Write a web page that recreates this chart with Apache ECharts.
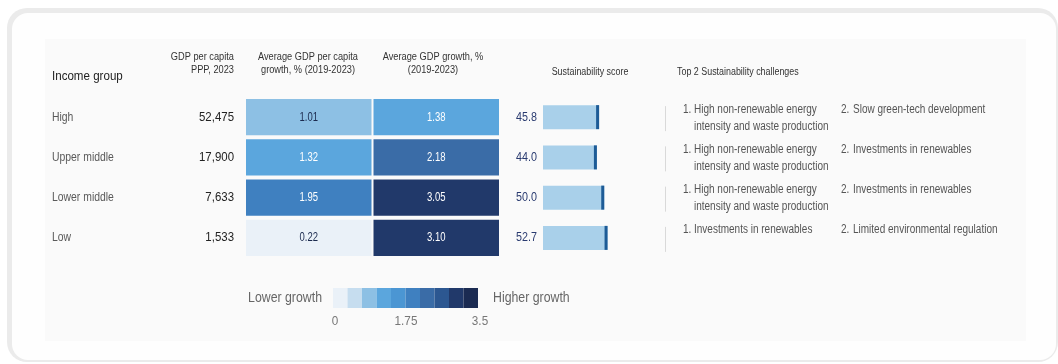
<!DOCTYPE html>
<html>
<head>
<meta charset="utf-8">
<script src="https://cdn.jsdelivr.net/npm/echarts@6/dist/echarts.min.js"></script>
<style>
  html, body { margin: 0; padding: 0; background: #ffffff; }
  #chart { width: 1058px; height: 364px; }
</style>
</head>
<body>
<div id="chart"></div>
<script>
// Income groups and their indicators
const incomeGroups = ['High', 'Upper middle', 'Lower middle', 'Low'];
const gdpPerCapitaPPP = [52475, 17900, 7633, 1533];
const perCapitaGrowth = [1.01, 1.32, 1.95, 0.22];
const gdpGrowth = [1.38, 2.18, 3.05, 3.10];
const sustainabilityScore = [45.8, 44.0, 50.0, 52.7];
const firstChallenge = [
  ['High non-renewable energy', 'intensity and waste production'],
  ['High non-renewable energy', 'intensity and waste production'],
  ['High non-renewable energy', 'intensity and waste production'],
  ['Investments in renewables']
];
const secondChallenge = [
  'Slow green-tech development',
  'Investments in renewables',
  'Investments in renewables',
  'Limited environmental regulation'
];
const growthColumns = ['Average GDP per capita\ngrowth, % (2019-2023)', 'Average GDP growth, %\n(2019-2023)'];
const growthScaleTicks = ['0', '1.75', '3.5'];
const growthScaleMax = 3.5;
const growthPalette = ['#eaf1f8', '#c6ddef', '#8dc0e4', '#5ba6dd', '#4b96d3', '#3f80c0', '#3a6ca7', '#2c5791', '#21396a', '#1b2b52'];

const FONT = "'Liberation Sans', Arial, sans-serif";

// heat cells: [column, row, value]
const growthCells = [];
incomeGroups.forEach((g, i) => {
  growthCells.push([0, i, perCapitaGrowth[i]]);
  growthCells.push([1, i, gdpGrowth[i]]);
});

// ten equal bins over the growth scale
const binSize = growthScaleMax / growthPalette.length;
const growthPieces = growthPalette.map((c, k) => {
  const p = { gte: k * binSize, color: c };
  if (k === growthPalette.length - 1) p.lte = growthScaleMax; else p.lt = (k + 1) * binSize;
  return p;
});

// condensed text element: anchored at (x, y), squeezed horizontally around the anchor
function narrowText(x, y, text, size, fill, align, sx, extra) {
  return {
    type: 'text', x: x, y: y, scaleX: sx, silent: true,
    style: Object.assign({
      x: 0, y: 0, text: text, font: size + 'px ' + FONT, fill: fill,
      align: align || 'left', verticalAlign: 'middle'
    }, extra || {})
  };
}

const chart = echarts.init(document.getElementById('chart'), null, { renderer: 'canvas' });

const gridTop = 97, gridHeight = 161;

chart.setOption({
  backgroundColor: '#ffffff',
  animation: false,
  textStyle: { fontFamily: FONT },
  grid: [
    { left: 245, top: gridTop, width: 255, height: gridHeight },
    { left: 543, top: gridTop, width: 122.5, height: gridHeight },
    { left: 665, top: gridTop, width: 360, height: gridHeight }
  ],
  xAxis: [
    { type: 'category', gridIndex: 0, data: growthColumns, show: false },
    { type: 'value', gridIndex: 1, min: 0, max: 100, show: false },
    { type: 'value', gridIndex: 2, min: 0, max: 1, show: false }
  ],
  yAxis: [
    { type: 'category', gridIndex: 0, inverse: true, data: incomeGroups, show: false },
    { type: 'category', gridIndex: 1, inverse: true, data: incomeGroups, show: false },
    { type: 'category', gridIndex: 2, inverse: true, data: incomeGroups, show: false }
  ],
  visualMap: {
    type: 'piecewise',
    orient: 'horizontal',
    left: 318, top: 273,
    itemWidth: 14.5, itemHeight: 20, itemGap: 0,
    itemSymbol: 'rect',
    showLabel: false,
    selectedMode: false,
    hoverLink: false,
    seriesIndex: 0,
    dimension: 2,
    pieces: growthPieces
  },
  series: [
    {
      // growth heat cells
      type: 'custom',
      name: 'Growth',
      xAxisIndex: 0, yAxisIndex: 0,
      encode: { x: 0, y: 1 },
      data: growthCells,
      silent: true,
      renderItem: function (params, api) {
        const c = api.coord([api.value(0), api.value(1)]);
        const s = api.size([1, 1]);
        const v = api.value(2);
        return {
          type: 'group',
          children: [
            {
              type: 'rect',
              shape: { x: c[0] - s[0] / 2 + 1, y: c[1] - s[1] / 2 + 2, width: s[0] - 2, height: s[1] - 4 },
              style: { fill: api.visual('color') }
            },
            narrowText(c[0], c[1], v.toFixed(2), 12.5, v < 1.2 ? '#1b2a4e' : '#ffffff', 'center', 0.76)
          ]
        };
      }
    },
    {
      // row names and GDP per capita, aligned to the heat rows
      type: 'custom',
      name: 'Rows',
      xAxisIndex: 0, yAxisIndex: 0,
      encode: { x: 0, y: 1 },
      data: incomeGroups.map((g, i) => [0, i]),
      silent: true,
      renderItem: function (params, api) {
        const i = params.dataIndex;
        const y = api.coord([0, api.value(1)])[1];
        const left = params.coordSys.x;
        return {
          type: 'group',
          children: [
            narrowText(left - 193, y, incomeGroups[i], 13, '#5a5a5a', 'left', 0.8),
            narrowText(left - 11, y, gdpPerCapitaPPP[i].toLocaleString('en-US'), 13, '#222', 'right', 0.88)
          ]
        };
      }
    },
    {
      type: 'bar',
      name: 'Sustainability score',
      xAxisIndex: 1, yAxisIndex: 1,
      data: sustainabilityScore,
      barWidth: 24,
      itemStyle: { color: '#a9d0ea' },
      silent: true
    },
    {
      // score end marker and value
      type: 'custom',
      name: 'Score marker',
      xAxisIndex: 1, yAxisIndex: 1,
      encode: { x: 0, y: 1 },
      data: sustainabilityScore.map((v, i) => [v, i]),
      silent: true,
      z: 3,
      renderItem: function (params, api) {
        const end = api.coord([api.value(0), api.value(1)]);
        const start = api.coord([0, api.value(1)]);
        return {
          type: 'group',
          children: [
            { type: 'rect', shape: { x: end[0] - 3, y: end[1] - 12, width: 3, height: 24 }, style: { fill: '#1d5b96' } },
            narrowText(start[0] - 6, start[1], api.value(0).toFixed(1), 12.5, '#2a3b70', 'right', 0.86)
          ]
        };
      }
    },
    {
      type: 'custom',
      name: 'Challenges',
      xAxisIndex: 2, yAxisIndex: 2,
      encode: { x: 0, y: 1 },
      data: incomeGroups.map((g, i) => [0, i]),
      silent: true,
      renderItem: function (params, api) {
        const i = params.dataIndex;
        const p = api.coord([0, api.value(1)]);
        const x0 = p[0], y = p[1];
        const t = (x, yy, text) => narrowText(x, yy, text, 12.5, '#555', 'left', 0.8);
        const children = [{
          type: 'line',
          shape: { x1: x0 + 0.5, y1: y - 11, x2: x0 + 0.5, y2: y + 14 },
          style: { stroke: '#d9d9d9', lineWidth: 1 }
        }];
        children.push(t(x0 + 18, y - 8, '1.'));
        firstChallenge[i].forEach((line, k) => children.push(t(x0 + 29, y - 8 + k * 17, line)));
        children.push(t(x0 + 176, y - 8, '2.'));
        children.push(t(x0 + 188, y - 8, secondChallenge[i]));
        return { type: 'group', children: children };
      }
    }
  ],
  graphic: [
    // card frame and inner panel
    { type: 'rect', z: -20, silent: true, shape: { x: 7, y: 8, width: 1051, height: 354, r: 20 }, style: { fill: '#ebebeb' } },
    { type: 'rect', z: -19, silent: true, shape: { x: 12, y: 13, width: 1044, height: 347, r: 16 }, style: { fill: '#fefefe' } },
    { type: 'rect', z: -18, silent: true, shape: { x: 45, y: 39, width: 981, height: 302 }, style: { fill: '#fafafa' } },
    // column headers
    narrowText(52, 76, 'Income group', 13, '#222', 'left', 0.89),
    narrowText(234, 64, 'GDP per capita\nPPP, 2023', 10.5, '#333', 'right', 0.88, { lineHeight: 13 }),
    narrowText(308, 64, growthColumns[0], 10.5, '#333', 'center', 0.88, { lineHeight: 13 }),
    narrowText(433, 64, growthColumns[1], 10.5, '#333', 'center', 0.88, { lineHeight: 13 }),
    narrowText(590, 72, 'Sustainability score', 10, '#333', 'center', 0.89),
    narrowText(677, 72, 'Top 2 Sustainability challenges', 10, '#333', 'left', 0.89),
    // growth scale captions and ticks
    narrowText(322, 298, 'Lower growth', 14, '#666', 'right', 0.88),
    narrowText(493, 298, 'Higher growth', 14, '#666', 'left', 0.88),
    narrowText(335, 321, growthScaleTicks[0], 13, '#777', 'center', 0.9),
    narrowText(406, 321, growthScaleTicks[1], 13, '#777', 'center', 0.9),
    narrowText(480, 321, growthScaleTicks[2], 13, '#777', 'center', 0.9)
  ]
});
</script>
</body>
</html>
